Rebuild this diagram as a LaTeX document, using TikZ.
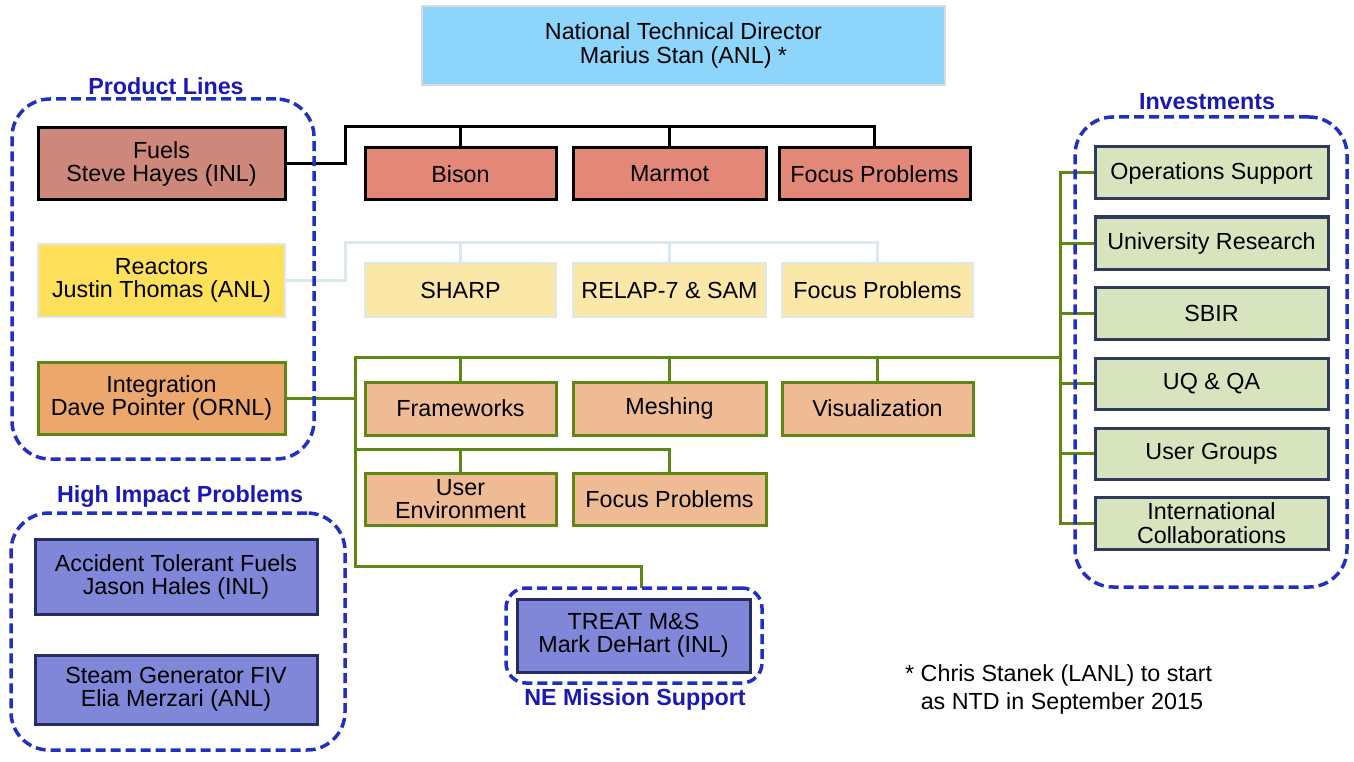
\documentclass[tikz,border=0pt]{standalone}
\usepackage{fontspec}
\setmainfont{Liberation Sans}
\definecolor{ntdfill}{HTML}{8ED5FC}
\definecolor{ntdline}{HTML}{DADADA}
\definecolor{fuelfill}{HTML}{CD887B}
\definecolor{redfill}{HTML}{E38878}
\definecolor{reafill}{HTML}{FFE05A}
\definecolor{ylwfill}{HTML}{FBE8A8}
\definecolor{lightline}{HTML}{DCE8EC}
\definecolor{intfill}{HTML}{EBA76C}
\definecolor{orgfill}{HTML}{EEBB95}
\definecolor{linegreen}{HTML}{5F8714}
\definecolor{purfill}{HTML}{8086D8}
\definecolor{navyline}{HTML}{272C5E}
\definecolor{grnfill}{HTML}{D7E4BE}
\definecolor{navyg}{HTML}{2F3A5C}
\definecolor{dashblue}{HTML}{2130C0}
\definecolor{titleblue}{HTML}{1A1AB0}
\pgfdeclarelayer{bg}
\pgfsetlayers{bg,main}
\tikzset{
 box/.style={draw, line width=3pt, inner sep=0pt, outer sep=0pt, align=center},
 ntdbox/.style={box, fill=ntdfill, draw=ntdline, line width=2pt},
 fuelbox/.style={box, fill=fuelfill, draw=black},
 redbox/.style={box, fill=redfill, draw=black},
 reabox/.style={box, fill=reafill, draw=lightline, line width=2.5pt},
 ylwbox/.style={box, fill=ylwfill, draw=lightline, line width=2.5pt},
 intbox/.style={box, fill=intfill, draw=linegreen},
 orgbox/.style={box, fill=orgfill, draw=linegreen},
 purbox/.style={box, fill=purfill, draw=navyline},
 grnbox/.style={box, fill=grnfill, draw=navyg},
 grp/.style={draw=dashblue, line width=3.5pt, dash pattern=on 10pt off 5pt, rounded corners=38pt, inner sep=0pt, outer sep=0pt},
 grptitle/.style={text=titleblue, font=\fontsize{23.3}{23.5}\selectfont\bfseries, inner sep=0pt},
 blkline/.style={draw=black, line width=3pt},
 ltline/.style={draw=lightline, line width=3pt},
 grnline/.style={draw=linegreen, line width=3pt},
}
\begin{document}
\begin{tikzpicture}[x=1pt, y=-1pt, every node/.style={font=\fontsize{23.3}{23.5}\selectfont}]
\useasboundingbox (0,0) rectangle (1354,762);
% top
\node[ntdbox, minimum width=523, minimum height=79] (ntd) at (683.5,45.5) {National Technical Director\\Marius Stan (ANL) *};
% product lines
\node[fuelbox, minimum width=247, minimum height=72] (fuels) at (161.5,164) {Fuels\\Steve Hayes (INL)};
\node[reabox, minimum width=247, minimum height=73] (reactors) at (161.5,280.5) {Reactors\\Justin Thomas (ANL)};
\node[intbox, minimum width=247, minimum height=72] (integ) at (161.5,398) {Integration\\Dave Pointer (ORNL)};
% fuels row
\node[redbox, minimum width=191, minimum height=52] (bison) at (460.5,174) {Bison};
\node[redbox, minimum width=193, minimum height=52] (marmot) at (669.5,174) {Marmot};
\node[redbox, minimum width=191, minimum height=52] (fpa) at (874.5,174) {Focus Problems};
% reactors row
\node[ylwbox, minimum width=191, minimum height=54] (sharp) at (460.5,290) {SHARP};
\node[ylwbox, minimum width=193, minimum height=54] (relap) at (669.5,290) {RELAP-7 \& SAM};
\node[ylwbox, minimum width=191, minimum height=54] (fpb) at (877.5,290) {Focus Problems};
% integration rows
\node[orgbox, minimum width=191, minimum height=53] (frame) at (460.5,408.5) {Frameworks};
\node[orgbox, minimum width=193, minimum height=53] (mesh) at (669.5,408.5) {Meshing};
\node[orgbox, minimum width=191, minimum height=53] (vis) at (877.5,408.5) {Visualization};
\node[orgbox, minimum width=191, minimum height=52] (usrenv) at (460.5,499) {User\\Environment};
\node[orgbox, minimum width=193, minimum height=52] (fpc) at (669.5,499) {Focus Problems};
% high impact problems
\node[purbox, minimum width=282, minimum height=75] (atf) at (176,577) {Accident Tolerant Fuels\\Jason Hales (INL)};
\node[purbox, minimum width=282, minimum height=69] (sg) at (176,689.5) {Steam Generator FIV\\Elia Merzari (ANL)};
\node[purbox, minimum width=233, minimum height=73] (treat) at (633.5,635.5) {TREAT M\&S\\Mark DeHart (INL)};
% investments
\node[grnbox, minimum width=233, minimum height=52] (ops) at (1211.5,173) {Operations Support};
\node[grnbox, minimum width=233, minimum height=52] (ur) at (1211.5,243) {University Research};
\node[grnbox, minimum width=233, minimum height=52] (sbir) at (1211.5,313) {SBIR};
\node[grnbox, minimum width=233, minimum height=51] (uq) at (1211.5,383.5) {UQ \& QA};
\node[grnbox, minimum width=233, minimum height=51] (ug) at (1211.5,453.5) {User Groups};
\node[grnbox, minimum width=233, minimum height=52] (ic) at (1211.5,523) {International\\Collaborations};
% groups
\node[grp, minimum width=302, minimum height=360] (pl) at (163,279) {};
\node[grp, minimum width=334, minimum height=237] (hip) at (178,631.5) {};
\node[grp, rounded corners=20pt, minimum width=256, minimum height=95] (ne) at (634,635.5) {};
\node[grp, minimum width=272, minimum height=470] (inv) at (1211,352) {};
\node[grptitle] (plt) at (166,86) {Product Lines};
\node[grptitle] (hipt) at (180,497) {High Impact Problems};
\node[grptitle] (net) at (635,699) {NE Mission Support};
\node[grptitle] (invt) at (1207,102) {Investments};
% footnote
\node[anchor=north west, align=left, inner sep=0pt] (note) at (905,664) {* Chris Stanek (LANL) to start\\[5pt]\hphantom{*}\ as NTD in September 2015};
% connectors
\coordinate (fbus) at (345,127);
\coordinate (rbus) at (345,242);
\coordinate (ibus) at (355,357);
\coordinate (ibus2) at (355,449);
\coordinate (ibus3) at (355,566);
\coordinate (invbus) at (1060,357);
\begin{pgfonlayer}{bg}
\draw[blkline] (fuels.east) -| (fbus) -| (fpa.north);
\draw[blkline] (bison.north) -- (bison.north |- fbus);
\draw[blkline] (marmot.north) -- (marmot.north |- fbus);
\draw[ltline] (reactors.east) -| (rbus) -| (fpb.north);
\draw[ltline] (sharp.north) -- (sharp.north |- rbus);
\draw[ltline] (relap.north) -- (relap.north |- rbus);
\draw[grnline] (integ.east) -| (ibus) -- (invbus);
\draw[grnline] (frame.north) -- (frame.north |- ibus);
\draw[grnline] (mesh.north) -- (mesh.north |- ibus);
\draw[grnline] (vis.north) -- (vis.north |- ibus);
\draw[grnline] (ibus) -- (ibus3) -| ([xshift=7pt]ne.north);
\draw[grnline] (ibus2) -| (fpc.north);
\draw[grnline] (usrenv.north) -- (usrenv.north |- ibus2);
\draw[grnline] (ops.west) -| (invbus);
\draw[grnline] (ic.west) -| (invbus);
\draw[grnline] (ur.west) -- (ur.west -| invbus);
\draw[grnline] (sbir.west) -- (sbir.west -| invbus);
\draw[grnline] (uq.west) -- (uq.west -| invbus);
\draw[grnline] (ug.west) -- (ug.west -| invbus);
\end{pgfonlayer}
\end{tikzpicture}
\end{document}
